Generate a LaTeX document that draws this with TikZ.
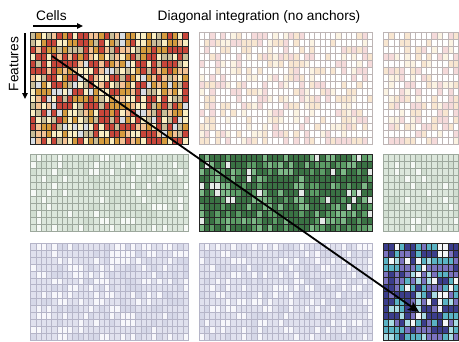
\documentclass[tikz,border=0pt]{standalone}
\usepackage{fontspec}
\setmainfont{Liberation Sans}
\usetikzlibrary{arrows.meta}
% dark orange palette
\definecolor{oR}{HTML}{C8463A}
\definecolor{oO}{HTML}{D59B3E}
\definecolor{oP}{HTML}{F3C294}
\definecolor{oC}{HTML}{FAEEC2}
\definecolor{oK}{HTML}{C9BD98}
\definecolor{oG}{HTML}{D8DDE3}
% faded top
\definecolor{tW}{HTML}{FFFFFF}
\definecolor{tP}{HTML}{F5DADA}
\definecolor{tO}{HTML}{F8E6D0}
\definecolor{tC}{HTML}{FBF3E2}
\definecolor{tLine}{HTML}{BDB5B5}
% dark green
\definecolor{gD}{HTML}{3A7244}
\definecolor{gM}{HTML}{5C9C66}
\definecolor{gT}{HTML}{7DB887}
\definecolor{gW}{HTML}{E6EAE8}
% faded green
\definecolor{fgL}{HTML}{DCE7DC}
\definecolor{fgW}{HTML}{F6F9F6}
\definecolor{fgM}{HTML}{D2DFD2}
\definecolor{gLine}{HTML}{9DA89D}
% dark blue
\definecolor{bN}{HTML}{3B3D8C}
\definecolor{bP}{HTML}{7B73BF}
\definecolor{bT}{HTML}{5AB3C4}
\definecolor{bC}{HTML}{A9DCE4}
\definecolor{bW}{HTML}{F4F6F8}
% faded blue
\definecolor{fbL}{HTML}{E0E1EE}
\definecolor{fbW}{HTML}{F7F7FB}
\definecolor{fbM}{HTML}{D6D8E8}
\definecolor{bLine}{HTML}{B5B5C8}

\newcommand\palO[1]{\ifcase#1 oR\or oR\or oR\or oR\or oO\or oO\or oO\or oP\or oP\or oC\or oC\or oC\or oK\or oK\or oG\else oR\fi}
\newcommand\palTF[1]{\ifcase#1 tW\or tW\or tW\or tW\or tW\or tW\or tW\or tP\or tP\or tP\or tO\or tO\or tO\or tC\or tC\else tW\fi}
\newcommand\palG[1]{\ifcase#1 gD\or gD\or gD\or gD\or gD\or gD\or gD\or gD\or gM\or gM\or gM\or gT\or gT\or gT\or gW\else gD\fi}
\newcommand\palGF[1]{\ifcase#1 fgL\or fgL\or fgL\or fgL\or fgL\or fgL\or fgL\or fgL\or fgL\or fgL\or fgL\or fgW\or fgW\or fgM\or fgM\else fgL\fi}
\newcommand\palB[1]{\ifcase#1 bN\or bN\or bN\or bN\or bN\or bP\or bP\or bP\or bT\or bT\or bT\or bC\or bC\or bW\or bW\else bN\fi}
\newcommand\palBF[1]{\ifcase#1 fbL\or fbL\or fbL\or fbL\or fbL\or fbL\or fbL\or fbL\or fbW\or fbW\or fbW\or fbW\or fbM\or fbM\or fbM\else fbL\fi}

% x0, y0, ncols, nrows, cw, ch, palette, line style
\newcommand\heatblock[8]{%
  \foreach \ci in {1,...,#3}{%
    \foreach \cj in {1,...,#4}{%
      \pgfmathrandominteger{\rnd}{0}{14}%
      \edef\cc{#7{\rnd}}%
      \draw[#8, fill=\cc] ({#1+(\ci-1)*#5},{#2+(\cj-1)*#6}) rectangle ++(#5,#6);
    }%
  }%
}

\tikzset{
  darkgrid/.style={draw=black!85, line width=0.55pt},
  topfade/.style={draw=tLine, line width=0.45pt},
  greenfade/.style={draw=gLine, line width=0.45pt},
  bluefade/.style={draw=bLine, line width=0.45pt},
  lbl/.style={inner sep=0pt, font=\fontsize{13.7}{15}\selectfont},
  smallarrow/.style={line width=1.3pt, -{Triangle[length=6pt,width=5.5pt]}},
  bigarrow/.style={line width=1.8pt, -{Stealth[length=11pt,width=10pt,inset=2.5pt]}}
}

\begin{document}
\begin{tikzpicture}[x=1pt,y=-1pt]
\pgfmathsetseed{7}
\useasboundingbox[fill=white] (0,0) rectangle (459,341);

% row 1
\heatblock{30.5}{32}{30}{16}{5.25}{7}{\palO}{darkgrid}
\heatblock{199}{32}{33}{16}{5.25}{7}{\palTF}{topfade}
\heatblock{383}{32}{14}{16}{5.4}{7}{\palTF}{topfade}
% row 2
\heatblock{30.5}{154}{30}{11}{5.25}{7}{\palGF}{greenfade}
\heatblock{199}{154}{33}{11}{5.25}{7}{\palG}{darkgrid}
\heatblock{383}{154}{14}{11}{5.4}{7}{\palGF}{greenfade}
% row 3
\heatblock{30.5}{243}{30}{14}{5.25}{6.95}{\palBF}{bluefade}
\heatblock{199}{243}{33}{14}{5.25}{6.95}{\palBF}{bluefade}
\heatblock{383}{243}{14}{14}{5.4}{6.95}{\palB}{darkgrid}

% labels
\node[lbl, anchor=base west] (cells) at (36,20) {Cells};
\node[lbl, rotate=90, anchor=base] (feat) at (18.5,64) {Features};
\node[lbl, anchor=base] (title) at (259,20) {Diagonal integration (no anchors)};

\coordinate (cS) at (33,26);
\coordinate (cE) at (83,26);
\coordinate (fS) at (25,33);
\coordinate (fE) at (25,99);
\draw[smallarrow] (cS) -- (cE);
\draw[smallarrow] (fS) -- (fE);

\coordinate (aS) at (52,56);
\coordinate (aE) at (419,312);
\draw[bigarrow] (aS) -- (aE);
\end{tikzpicture}
\end{document}
